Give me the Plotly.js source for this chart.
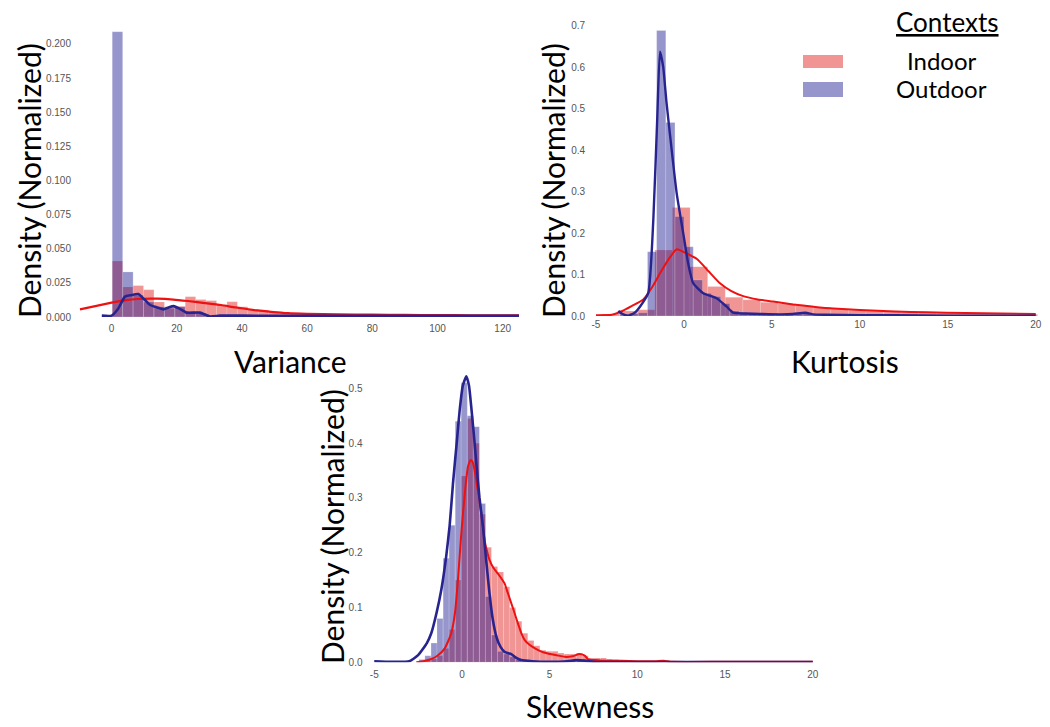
<!DOCTYPE html>
<html>
<head>
<meta charset="utf-8">
<script src="https://cdn.plot.ly/plotly-3.0.1.min.js"></script>
<style>html,body{margin:0;padding:0;background:#fff;}#chart{width:1050px;height:727px;}</style>
</head>
<body>
<div id="chart"></div>
<script>
// ---------------- DATA ----------------
// Variance histogram (bin centres, density)
const varBinCenters = [1.8,5.0,8.2,11.4,14.6,17.8,21.0,24.2,27.4,30.6,33.8,37.0,40.2,43.4,46.6,49.8,53.0,56.2,59.4,62.6,65.8,69.0,72.2,75.4,78.6,81.8,85.0,88.2,91.4,94.6,97.8,101.0,104.2,107.4,110.6,113.8,117.0,120.2,123.4];
const varBinWidth = 3.2;
const varIndoorHist = [0.041,0.022,0.023,0.020,0.011,0.0075,0.0078,0.0149,0.0128,0.012,0.009,0.0112,0.0075,0.0056,0.005,0.004,0.0035,0.003,0.0028,0.0025,0.002,0.0018,0.0016,0.0015,0.0014,0.0013,0.0012,0.0012,0.0011,0.001,0.001,0.001,0.0012,0.0009,0.0009,0.0008,0.0008,0.0008,0.0007];
const varOutdoorHist = [0.209,0.033,0.016,0.011,0.0075,0.0065,0.0075,0.004,0.003,0.0012,0.001,0.001,0.0008,0.0006,0.0006,0.0005,0.0005,0.0004,0.0004,0.0004,0.0004,0.0003,0.0003,0.0003,0.0003,0.0003,0.0003,0.0003,0.0003,0.0004,0.0004,0.0003,0.0003,0.0003,0.0002,0.0002,0.0002,0.0002,0.0002];
const varIndoorKdeX = [-9.7,-5,0,4,8,14,19,23.4,28,33.6,38,43.8,49,54.1,60,69.4,80,90,100,110,125];
const varIndoorKdeY = [0.0056,0.008,0.0105,0.0122,0.0132,0.0134,0.0128,0.0117,0.0104,0.0088,0.007,0.0051,0.0038,0.0028,0.0023,0.0019,0.0017,0.0015,0.0014,0.0013,0.0012];
const varOutdoorKdeX = [-3,0,2,4.1,6,8.2,10,11.8,14,15.9,17.5,19,21,23.1,27.1,30.2,33.3,40,60,80,100,125];
const varOutdoorKdeY = [0.001,0.001,0.006,0.0149,0.016,0.0168,0.013,0.0088,0.007,0.0056,0.007,0.008,0.006,0.0032,0.0032,0.0004,0.001,0.001,0.0008,0.0008,0.0008,0.0008];

// Kurtosis histogram
const kurIndoorCenters = [-4.15,-3.15,-2.15,-1.15,-0.15,0.85,1.85,2.85,3.85,4.85,5.85,6.85,7.85,8.85,9.85,10.85,11.85,12.85,13.85,14.85,15.85,16.85,17.85,18.85,19.85];
const kurIndoorWidth = 1.0;
const kurIndoorHist = [0.005,0.012,0.015,0.159,0.262,0.119,0.071,0.045,0.039,0.033,0.03,0.025,0.021,0.017,0.014,0.012,0.01,0.009,0.008,0.007,0.006,0.005,0.005,0.004,0.004];
const kurOutdoorCenters = [-3.37,-2.85,-2.33,-1.81,-1.29,-0.77,-0.25,0.27,0.79,1.31,1.83,2.35,2.87,3.39,3.91,4.43,4.95,5.47,5.99,6.51,7.03,7.55,8.07,8.59,9.11,9.63];
const kurOutdoorWidth = 0.52;
const kurOutdoorHist = [0.004,0.006,0.008,0.155,0.689,0.467,0.24,0.167,0.087,0.055,0.047,0.03,0.012,0.008,0.006,0.005,0.005,0.004,0.004,0.005,0.006,0.003,0.002,0.002,0.002,0.002];
const kurIndoorKdeX = [-5,-4.1,-3.5,-2.97,-2.31,-1.8,-1.36,-0.9,-0.41,0.1,0.76,1.4,2.05,2.7,3.37,4.2,5.07,6.2,7.35,8.5,10.0,12,13.8,16,18,20];
const kurIndoorKdeY = [0.002,0.003,0.012,0.024,0.04,0.07,0.103,0.135,0.161,0.152,0.137,0.108,0.079,0.06,0.048,0.04,0.035,0.028,0.0225,0.018,0.0145,0.011,0.009,0.007,0.006,0.005];
const kurOutdoorKdeX = [-3.73,-3.54,-3.16,-2.8,-2.5,-2.03,-1.74,-1.52,-1.36,-1.18,-1.0,-0.8,-0.41,-0.04,0.24,0.53,1.1,1.86,2.43,2.8,3.5,4.3,5.5,6.2,6.9,7.35,8,10,12,15,20];
const kurOutdoorKdeY = [0.012,0.006,0.001,0.008,0.0225,0.055,0.232,0.473,0.638,0.602,0.52,0.441,0.296,0.2,0.127,0.079,0.055,0.043,0.0225,0.008,0.006,0.005,0.004,0.005,0.008,0.004,0.003,0.002,0.002,0.001,0.001];

// Skewness histogram
const skwBinCenters = [-2.28,-1.94,-1.59,-1.25,-0.90,-0.56,-0.21,0.13,0.48,0.82,1.17,1.51,1.86,2.20,2.55,2.89,3.24,3.58,3.93,4.27,4.62,4.96,5.31,5.65,6.00,6.34,6.69,7.03,7.38,7.72,8.07,8.41,8.76,9.10,9.45,9.79,10.14,10.48,10.83,11.17];
const skwBinWidth = 0.345;
const skwIndoorHist = [0.003,0.004,0.006,0.012,0.025,0.06,0.15,0.34,0.445,0.40,0.27,0.21,0.175,0.165,0.138,0.10,0.075,0.053,0.04,0.03,0.022,0.02,0.02,0.017,0.015,0.015,0.017,0.012,0.008,0.008,0.008,0.006,0.005,0.003,0.002,0.002,0.002,0.002,0.002,0.002];
const skwOutdoorHist = [0.005,0.012,0.035,0.08,0.19,0.25,0.44,0.51,0.45,0.43,0.29,0.12,0.05,0.02,0.015,0.01,0.005,0.003,0.002,0.002,0.002,0.002,0.002,0.002,0.002,0.003,0.004,0.004,0.001,0.001,0,0,0,0,0,0,0,0,0,0];
const skwIndoorKdeX = [-2.6,-2.2,-1.75,-1.4,-0.99,-0.61,-0.4,-0.23,-0.05,0.06,0.2,0.34,0.49,0.6,0.72,0.85,1.0,1.15,1.29,1.45,1.57,1.8,2.05,2.25,2.43,2.6,2.81,3.0,3.19,3.4,3.57,3.85,4.14,4.5,4.9,5.4,5.85,6.3,6.7,7.0,7.18,7.56,8.0,9.08,10,11,11.5,12,15,20];
const skwIndoorKdeY = [0.0,0.002,0.006,0.012,0.025,0.053,0.09,0.15,0.23,0.272,0.32,0.357,0.369,0.366,0.351,0.325,0.296,0.26,0.223,0.2,0.187,0.172,0.162,0.153,0.144,0.128,0.108,0.09,0.071,0.052,0.041,0.032,0.026,0.02,0.016,0.013,0.01,0.011,0.015,0.012,0.006,0.004,0.003,0.003,0.002,0.002,0.003,0.001,0.001,0.001];
const skwOutdoorKdeX = [-5,-4,-3,-2.5,-2.0,-1.75,-1.45,-1.18,-0.9,-0.7,-0.51,-0.3,-0.13,0.05,0.25,0.4,0.53,0.68,0.82,1.0,1.2,1.4,1.57,1.75,1.96,2.2,2.43,2.81,3.1,3.38,4,5,6,6.5,7,7.5,8,10,15,20];
const skwOutdoorKdeY = [0.002,0.001,0.002,0.013,0.035,0.053,0.09,0.132,0.193,0.25,0.327,0.4,0.46,0.505,0.522,0.505,0.466,0.415,0.363,0.3,0.247,0.18,0.126,0.08,0.047,0.028,0.019,0.015,0.008,0.004,0.002,0.001,0.002,0.004,0.003,0.001,0.0005,0.0005,0.0005,0.0005];

// Tick labels
const varXTicks = [0,20,40,60,80,100,120];
const varYTicks = [0,0.025,0.05,0.075,0.1,0.125,0.15,0.175,0.2];
const kurXTicks = [-5,0,5,10,15,20];
const kurYTicks = [0,0.1,0.2,0.3,0.4,0.5,0.6,0.7];
const skwXTicks = [-5,0,5,10,15,20];
const skwYTicks = [0,0.1,0.2,0.3,0.4,0.5];

const seriesNames = ['Indoor','Outdoor'];
const legendTitle = 'Contexts';
const axisTitles = {variance:'Variance', kurtosis:'Kurtosis', skewness:'Skewness', density:'Density (Normalized)'};

// ---------------- STYLE ----------------
const RED_BAR = 'rgba(225,41,41,0.5)';
const BLUE_BAR = 'rgba(22,22,144,0.45)';
const BAR_EDGE = 'rgba(255,255,255,0.3)';
const RED_LINE = '#ee1111';
const BLUE_LINE = '#27248f';
const BIG_FONT = 'Lato, "Open Sans", sans-serif';
const TICK_FONT = {family:'"Liberation Sans", Arial, sans-serif', size:10, color:'#555'};

function bars(x, y, w, color, xa, ya, name){
  return {type:'bar', x:x, y:y, width:w, marker:{color:color, line:{width:0.6, color:BAR_EDGE}}, xaxis:xa, yaxis:ya, name:name, showlegend:false, hoverinfo:'skip'};
}
function kde(x, y, color, wid, xa, ya, name){
  return {type:'scatter', mode:'lines', x:x, y:y, line:{color:color, width:wid, shape:'spline', smoothing:0.5}, xaxis:xa, yaxis:ya, name:name, showlegend:false, hoverinfo:'skip'};
}

const data = [
  bars(varBinCenters, varIndoorHist, varBinWidth, RED_BAR, 'x', 'y', seriesNames[0]),
  bars(varBinCenters, varOutdoorHist, varBinWidth, BLUE_BAR, 'x', 'y', seriesNames[1]),
  kde(varIndoorKdeX, varIndoorKdeY, RED_LINE, 2.2, 'x', 'y', seriesNames[0]),
  kde(varOutdoorKdeX, varOutdoorKdeY, BLUE_LINE, 2.6, 'x', 'y', seriesNames[1]),

  bars(kurIndoorCenters, kurIndoorHist, kurIndoorWidth, RED_BAR, 'x2', 'y2', seriesNames[0]),
  bars(kurOutdoorCenters, kurOutdoorHist, kurOutdoorWidth, BLUE_BAR, 'x2', 'y2', seriesNames[1]),
  kde(kurIndoorKdeX, kurIndoorKdeY, RED_LINE, 2.0, 'x2', 'y2', seriesNames[0]),
  kde(kurOutdoorKdeX, kurOutdoorKdeY, BLUE_LINE, 2.4, 'x2', 'y2', seriesNames[1]),

  bars(skwBinCenters, skwIndoorHist, skwBinWidth, RED_BAR, 'x3', 'y3', seriesNames[0]),
  bars(skwBinCenters, skwOutdoorHist, skwBinWidth, BLUE_BAR, 'x3', 'y3', seriesNames[1]),
  kde(skwIndoorKdeX, skwIndoorKdeY, RED_LINE, 2.0, 'x3', 'y3', seriesNames[0]),
  kde(skwOutdoorKdeX, skwOutdoorKdeY, BLUE_LINE, 2.6, 'x3', 'y3', seriesNames[1])
];

function xax(domain, range, ticks, anchor, standoff){
  return {domain:domain, range:range, tickvals:ticks, ticktext:ticks.map(String), anchor:anchor,
    showgrid:false, zeroline:false, showline:false, ticks:'', tickfont:TICK_FONT, ticklabelstandoff:standoff, fixedrange:true};
}
function yax(domain, range, ticks, fmt, anchor, standoff){
  return {domain:domain, range:range, tickvals:ticks, tickformat:fmt, anchor:anchor,
    showgrid:false, zeroline:false, showline:false, ticks:'', tickfont:TICK_FONT, ticklabelstandoff:standoff, fixedrange:true};
}

// helpers converting pixel positions to paper fractions (layout only)
const W = 1050, H = 727;
const px = v => v / W;
const py = v => 1 - v / H;

function titleAnn(text, x, y, size, angle){
  return {text:text, xref:'paper', yref:'paper', x:px(x), y:py(y), xanchor:'center', yanchor:'middle',
    showarrow:false, textangle:angle||0, font:{family:BIG_FONT, size:size, color:'#000'}};
}

const layout = {
  width:W, height:H,
  margin:{l:0, r:0, t:0, b:0},
  paper_bgcolor:'#fff', plot_bgcolor:'rgba(0,0,0,0)',
  barmode:'overlay', bargap:0,
  showlegend:false,
  xaxis: xax([px(79), px(520.6)], [-10, 125.5], varXTicks, 'y', 4),
  yaxis: yax([py(317), py(27.6)], [0, 0.212], varYTicks, '.3f', 'x', 7),
  xaxis2: xax([px(594.2), px(1037.5)], [-5.1, 20.1], kurXTicks, 'y2', 1),
  yaxis2: yax([py(316), py(23.9)], [0, 0.705], kurYTicks, '.1f', 'x2', 8),
  xaxis3: xax([px(372.5), px(814.5)], [-5.1, 20.1], skwXTicks, 'y3', 5),
  yaxis3: yax([py(662.3), py(371.9)], [0, 0.53], skwYTicks, '.1f', 'x3', 9),
  annotations: [
    titleAnn(axisTitles.density, 29, 181, 30, -90),
    titleAnn(axisTitles.density, 553, 181, 30, -90),
    titleAnn(axisTitles.density, 332, 527, 30, -90),
    titleAnn(axisTitles.variance, 290, 361, 30),
    titleAnn(axisTitles.kurtosis, 845, 361, 30),
    titleAnn(axisTitles.skewness, 590, 706, 30),
    titleAnn('<u>' + legendTitle + '</u>', 948, 22, 26),
    titleAnn(seriesNames[0], 942, 60, 24),
    titleAnn(seriesNames[1], 941, 89, 24)
  ],
  shapes: [
    {type:'rect', xref:'paper', yref:'paper', x0:px(803), x1:px(843), y0:py(68), y1:py(55), fillcolor:RED_BAR, line:{width:0}},
    {type:'rect', xref:'paper', yref:'paper', x0:px(803), x1:px(843), y0:py(97), y1:py(82), fillcolor:BLUE_BAR, line:{width:0}}
  ]
};

Plotly.newPlot('chart', data, layout, {displayModeBar:false, staticPlot:true});
</script>
</body>
</html>
